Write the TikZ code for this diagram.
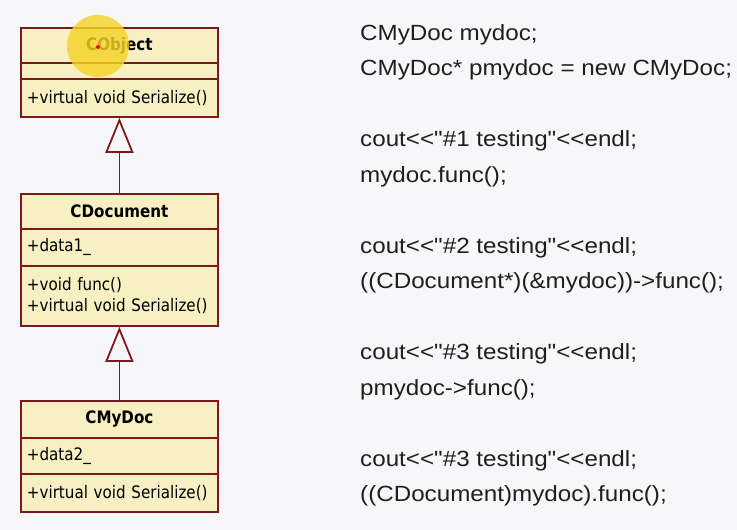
\documentclass[tikz,border=0pt]{standalone}
\usepackage{fontspec}
\usetikzlibrary{arrows.meta}
\newfontfamily\umlfont[FakeStretch=0.88]{DejaVu Sans}
\newfontfamily\codefont[FakeStretch=1.1]{Liberation Sans}
\definecolor{bgc}{HTML}{F7F7F9}
\definecolor{umlfill}{HTML}{F8EFC2}
\definecolor{umlline}{HTML}{7A1A1E}
\definecolor{hilite}{HTML}{F6D428}
\tikzset{
  comp/.style={draw=umlline, line width=1.8pt, fill=umlfill, rectangle,
    minimum width=197pt, text width=185pt, inner xsep=6pt, inner ysep=0pt,
    font=\umlfont\fontsize{17.2}{21}\selectfont, anchor=north west, align=left},
  title/.style={comp, align=center, font=\umlfont\bfseries\fontsize{17.2}{21}\selectfont},
  inherit/.style={draw=umlline, line width=1.8pt,
    -{Triangle[open, length=35pt, width=28pt, line width=1.8pt]}},
  code/.style={anchor=base west, inner sep=0pt, font=\codefont\fontsize{22}{26}\selectfont, text=black!88}
}
\begin{document}
\begin{tikzpicture}[x=1pt,y=-1pt]
\fill[bgc] (0,0) rectangle (737,530);
\useasboundingbox (0,0) rectangle (737,530);
% CObject
\node[title, minimum height=35pt] (objT) at (20,27) {CObject};
\node[comp, minimum height=16pt] (objA) at (20,62) {};
\node[comp, minimum height=38pt] (objM) at (20,78) {+virtual void Serialize()};
% CDocument
\node[title, minimum height=35pt] (docT) at (20,193) {CDocument};
\node[comp, minimum height=37pt] (docA) at (20,228) {+data1\_};
\node[comp, minimum height=60pt] (docM) at (20,265) {+void func()\\+virtual void Serialize()};
% CMyDoc
\node[title, minimum height=37pt] (myT) at (20,400) {CMyDoc};
\node[comp, minimum height=36pt] (myA) at (20,437) {+data2\_};
\node[comp, minimum height=38pt] (myM) at (20,473) {+virtual void Serialize()};
% inheritance
\draw[inherit] (docT.north) -- (objM.south);
\draw[inherit] (myT.north) -- (docM.south);
% cursor highlight
\fill[hilite, fill opacity=0.82] (98,46) circle (31pt);
\fill[red] (98,47) circle (2pt);
% code
\node[code] (c1) at (360,40) {CMyDoc mydoc;};
\node[code] (c2) at (360,75.5) {CMyDoc* pmydoc = new CMyDoc;};
\node[code] (c3) at (360,146.5) {cout<<"\#1 testing"<<endl;};
\node[code] (c4) at (360,182) {mydoc.func();};
\node[code] (c5) at (360,253) {cout<<"\#2 testing"<<endl;};
\node[code] (c6) at (360,288.5) {((CDocument*)(\&mydoc))->func();};
\node[code] (c7) at (360,359.5) {cout<<"\#3 testing"<<endl;};
\node[code] (c8) at (360,395) {pmydoc->func();};
\node[code] (c9) at (360,466) {cout<<"\#3 testing"<<endl;};
\node[code] (c10) at (360,501.5) {((CDocument)mydoc).func();};
\end{tikzpicture}
\end{document}
